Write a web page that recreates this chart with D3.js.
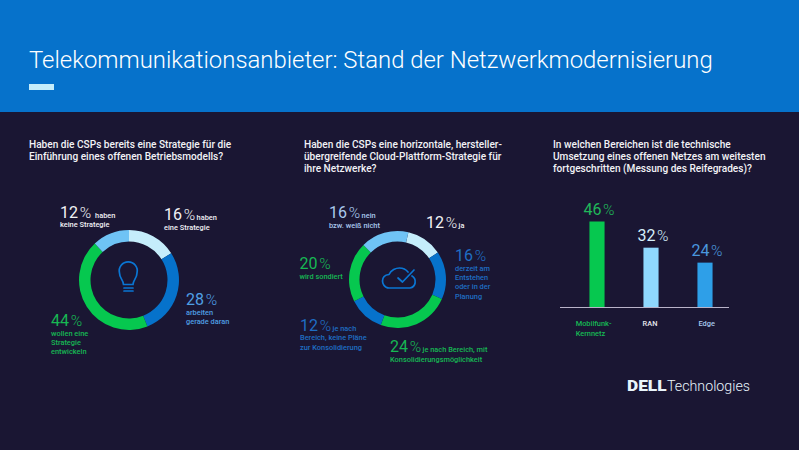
<!DOCTYPE html>
<html>
<head>
<meta charset="utf-8">
<script src="https://cdn.jsdelivr.net/npm/d3@7"></script>
<style>
  html, body { margin: 0; padding: 0; background: #1a1633; }
  svg { display: block; }
  text { font-family: Roboto, sans-serif; }
</style>
</head>
<body>
<div id="chart-area"></div>
<script>
const WIDTH = 799
const HEIGHT = 450

const colors = { pale: "#c5edfb", light: "#6fc3f5", blue: "#0672cb", green: "#06c84f", sky: "#2e9fe8" }

// Donut 1
const strategyValues = [16, 28, 44, 12]
const strategyColors = [colors.pale, colors.blue, colors.green, colors.light]

// Donut 2
const cloudValues = [12, 16, 24, 12, 20, 16]
const cloudColors = [colors.pale, colors.blue, colors.green, colors.blue, colors.green, colors.light]

// Bars
const barCategories = ["Mobilfunk-Kernnetz", "RAN", "Edge"]
const barValues = [46, 32, 24]
const barColors = [colors.green, "#8fd8fd", colors.sky]
const barLabelColors = ["#20b85a", "#d5effb", "#4a97de"]

const questions = [
  { x: 29, lines: ["Haben die CSPs bereits eine Strategie für die", "Einführung eines offenen Betriebsmodells?"] },
  { x: 304, lines: ["Haben die CSPs eine horizontale, hersteller-", "übergreifende Cloud-Plattform-Strategie für", "ihre Netzwerke?"] },
  { x: 553, lines: ["In welchen Bereichen ist die technische", "Umsetzung eines offenen Netzes am weitesten", "fortgeschritten (Messung des Reifegrades)?"] }
]

const svg = d3.select("#chart-area").append("svg")
  .attr("width", WIDTH)
  .attr("height", HEIGHT)

svg.append("rect").attr("width", WIDTH).attr("height", HEIGHT).attr("fill", "#1a1633")
svg.append("rect").attr("width", WIDTH).attr("height", 112).attr("fill", colors.blue)

svg.append("text")
  .attr("x", 29).attr("y", 67.5)
  .attr("font-size", 23.9).attr("font-weight", 300).attr("fill", "#ffffff")
  .text("Telekommunikationsanbieter: Stand der Netzwerkmodernisierung")
svg.append("rect").attr("x", 29).attr("y", 84).attr("width", 25).attr("height", 6).attr("fill", colors.pale)

questions.forEach(q => {
  svg.append("g").selectAll("text")
    .data(q.lines)
    .join("text")
    .attr("x", q.x)
    .attr("y", (d, i) => 147.5 + i * 12.2)
    .attr("font-size", 10.1).attr("font-weight", 500).attr("fill", "#f2f2f6")
    .text(d => d)
})

function donut(values, cols, cx, cy, r0, r1, start) {
  const pie = d3.pie().sort(null).startAngle(start).endAngle(start + 2 * Math.PI)
  const arc = d3.arc().innerRadius(r0).outerRadius(r1)
  svg.append("g")
    .attr("transform", `translate(${cx},${cy})`)
    .selectAll("path")
    .data(pie(values))
    .join("path")
    .attr("d", arc)
    .attr("fill", (d, i) => cols[i])
}

donut(strategyValues, strategyColors, 129, 280, 38.5, 50, 0)
donut(cloudValues, cloudColors, 397.5, 279.5, 38, 48.5, 13 * Math.PI / 180)

// big number with a light percent sign, then the small text runs
function label(x, y, pct, first, rest, color, gap) {
  const t = svg.append("text").attr("x", x).attr("y", y).attr("fill", color)
  t.append("tspan").attr("font-size", 16).text(pct + "\u200a")
  t.append("tspan").attr("font-size", 15.5).attr("font-weight", 300).text("%")
  if (first) t.append("tspan").attr("font-size", 7.4).attr("font-weight", 500).attr("dx", gap).text(first)
  rest.forEach((line, i) => {
    svg.append("text").attr("x", x).attr("y", y + 9.6 + i * 9.4)
      .attr("fill", color).attr("font-size", 7.4).attr("font-weight", 500).text(line)
  })
}

label(60, 217.5, strategyValues[3], "haben", ["keine Strategie"], "#f2f2f6", 4)
label(164, 220, strategyValues[0], "haben", ["eine Strategie"], "#f2f2f6", 1.5)
label(186, 305, strategyValues[1], "", ["arbeiten", "gerade daran"], "#4f9fe4", 0)
label(51, 326, strategyValues[2], "", ["wollen eine", "Strategie", "entwickeln"], "#17b853", 0)

label(329, 218.3, cloudValues[5], "nein", ["bzw. weiß nicht"], "#a9c9ee", 1.5)
label(426, 228, cloudValues[0], "ja", [], "#f2f2f6", 1.5)
label(455, 261, cloudValues[1], "", ["derzeit am", "Entstehen", "oder in der", "Planung"], "#1f6ec4", 0)
label(299.5, 269, cloudValues[4], "", ["wird sondiert"], "#17b853", 0)
label(300, 330.7, cloudValues[3], "je nach", ["Bereich, keine Pläne", "zur Konsolidierung"], "#1f6ec4", 1.5)
label(390, 352.3, cloudValues[2], "je nach Bereich, mit", ["Konsolidierungsmöglichkeit"], "#17b853", 1.5)

// Icons
const iconG = svg.append("g").attr("fill", "none").attr("stroke", "#0a76d4").attr("stroke-width", 1.7).attr("stroke-linecap", "round")
iconG.append("path").attr("d", "M123.500 284.500 C123.500 280 119.500 278.500 119.500 273 A9 9 0 1 1 137 273 C137 278.500 133 280 133 284.500 Z")
iconG.append("path").attr("d", "M124 288 H133 M124 291 H133")
const cloudG = svg.append("g").attr("fill", "none").attr("stroke", "#0a76d4").attr("stroke-width", 1.7).attr("stroke-linecap", "round").attr("stroke-linejoin", "round")
cloudG.append("path").attr("d", "M410 288 H389 C384 288 382.500 283 382.500 281 C382.500 277 385 275 389 274.500 C391 270 396 268 399.500 268 C403 268 406 269.500 408 272 M412 276 C417 279 416 287 410 288")
cloudG.append("path").attr("d", "M398 278 L402.500 282 L414 270")

// Bars
const x = d3.scaleBand().domain(barCategories).range([570, 732]).paddingInner(0.72).paddingOuter(0.36)
const y = d3.scaleLinear().domain([0, 46]).range([307.5, 221.5])

svg.selectAll(".bar")
  .data(barValues)
  .join("rect")
  .attr("class", "bar")
  .attr("x", (d, i) => x(barCategories[i]))
  .attr("y", d => y(d))
  .attr("width", x.bandwidth())
  .attr("height", d => y(0) - y(d))
  .attr("fill", (d, i) => barColors[i])

svg.append("line").attr("x1", 560).attr("x2", 729).attr("y1", 307.5).attr("y2", 307.5)
  .attr("stroke", "#b9b3c9").attr("stroke-width", 1)

const vals = svg.selectAll(".val")
  .data(barValues)
  .join("text")
  .attr("class", "val")
  .attr("x", (d, i) => x(barCategories[i]) + x.bandwidth() / 2 + 2)
  .attr("y", d => y(d) - 6.8)
  .attr("text-anchor", "middle")
  .attr("font-size", 16)
  .attr("fill", (d, i) => barLabelColors[i])
vals.append("tspan").text(d => d + "\u200a")
vals.append("tspan").attr("font-weight", 300).attr("font-size", 15.5).text("%")

svg.append("text").attr("x", 575.7).attr("y", 326).attr("font-size", 7.4).attr("font-weight", 500).attr("fill", "#17b853").text("Mobilfunk-")
svg.append("text").attr("x", 575.7).attr("y", 335.7).attr("font-size", 7.4).attr("font-weight", 500).attr("fill", "#17b853").text("Kernnetz")
svg.append("text").attr("x", 650).attr("y", 326).attr("text-anchor", "middle").attr("font-size", 7.4).attr("font-weight", 500).attr("fill", "#e6e6ee").text("RAN")
svg.append("text").attr("x", 706.7).attr("y", 326).attr("text-anchor", "middle").attr("font-size", 7.4).attr("font-weight", 500).attr("fill", "#a9c9ee").text("Edge")

// Logo
svg.append("text").attr("x", 627).attr("y", 390.5).attr("fill", "#e8f4fb")
  .attr("font-size", 14).attr("font-weight", 900)
  .attr("textLength", 39.5).attr("lengthAdjust", "spacingAndGlyphs")
  .text("DELL")
svg.append("text").attr("x", 667).attr("y", 390.5).attr("fill", "#e8f4fb")
  .attr("font-size", 14.2).attr("font-weight", 300)
  .attr("textLength", 83).attr("lengthAdjust", "spacingAndGlyphs")
  .text("Technologies")
</script>
</body>
</html>
